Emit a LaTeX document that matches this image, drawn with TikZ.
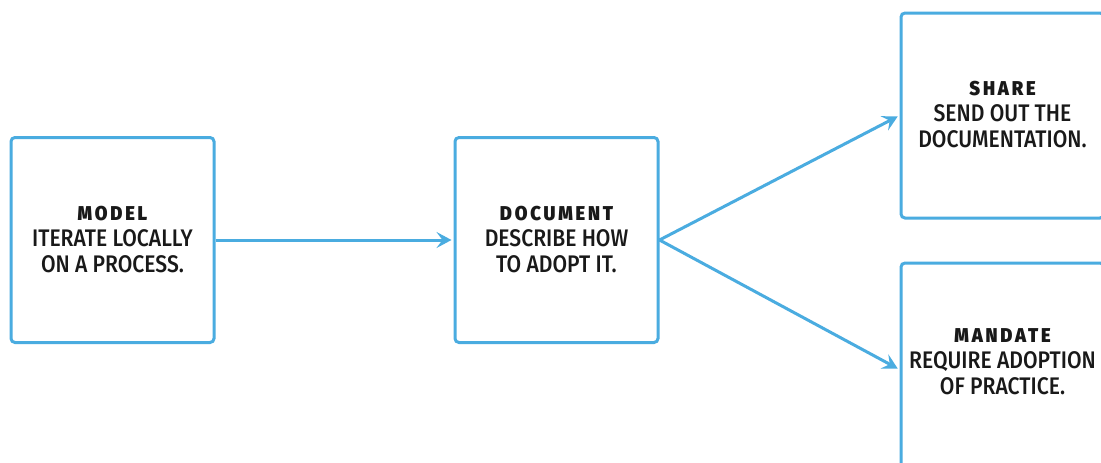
\documentclass[tikz,border=0pt]{standalone}
\usepackage{fontspec}
\setmainfont{Fira Sans}[FakeStretch=0.88,UprightFont={* Medium},BoldFont={* Black}]
\newfontfamily\headfont{Fira Sans}[FakeStretch=0.92,LetterSpace=14,UprightFont={* Black}]
\usetikzlibrary{arrows.meta}
\definecolor{flowblue}{RGB}{74,172,224}
\definecolor{ink}{RGB}{25,25,25}
\tikzset{
  stagebox/.style={draw=flowblue, line width=3pt, rounded corners=4pt,
    minimum width=203pt, minimum height=205pt, inner sep=0pt},
  stagetext/.style={align=center, text=ink, font=\fontsize{24}{26}\selectfont},
  flow/.style={draw=flowblue, line width=3pt,
    -{Stealth[length=15pt,width=16pt,inset=6pt]}, shorten >=2pt},
}
\newcommand{\stagehead}[1]{{\headfont\fontsize{20}{26}\selectfont #1}}
\begin{document}
\begin{tikzpicture}[x=1pt,y=-1pt]
  \useasboundingbox (0,0) rectangle (1101,463);
  \clip (0,0) rectangle (1101,463);
  \fill[white] (0,0) rectangle (1101,463);
  % the four stages
  \node[stagebox] (model)    at (112.5,240) {};
  \node[stagebox] (document) at (556.5,240) {};
  \node[stagebox] (share)    at (1002.5,115.5) {};
  \node[stagebox] (mandate)  at (1002.5,365.5) {};
  % their captions
  \node[stagetext] (modeltxt) at (112.5,240)
    {\stagehead{MODEL}\\ITERATE LOCALLY\\ON A PROCESS.};
  \node[stagetext] (doctxt) at (556.5,240)
    {\stagehead{DOCUMENT}\\DESCRIBE HOW\\TO ADOPT IT.};
  \node[stagetext] (sharetxt) at (1002.5,115)
    {\stagehead{SHARE}\\SEND OUT THE\\DOCUMENTATION.};
  \node[stagetext] (mandatetxt) at (1002.5,362)
    {\stagehead{MANDATE}\\REQUIRE ADOPTION\\OF PRACTICE.};
  % connectors
  \draw[flow] (model.east) -- (document.west);
  \draw[flow, shorten <=-1pt] (document.east) -- (share.west);
  \draw[flow, shorten <=-1pt] (document.east) -- ([yshift=-4pt]mandate.west);
\end{tikzpicture}
\end{document}
